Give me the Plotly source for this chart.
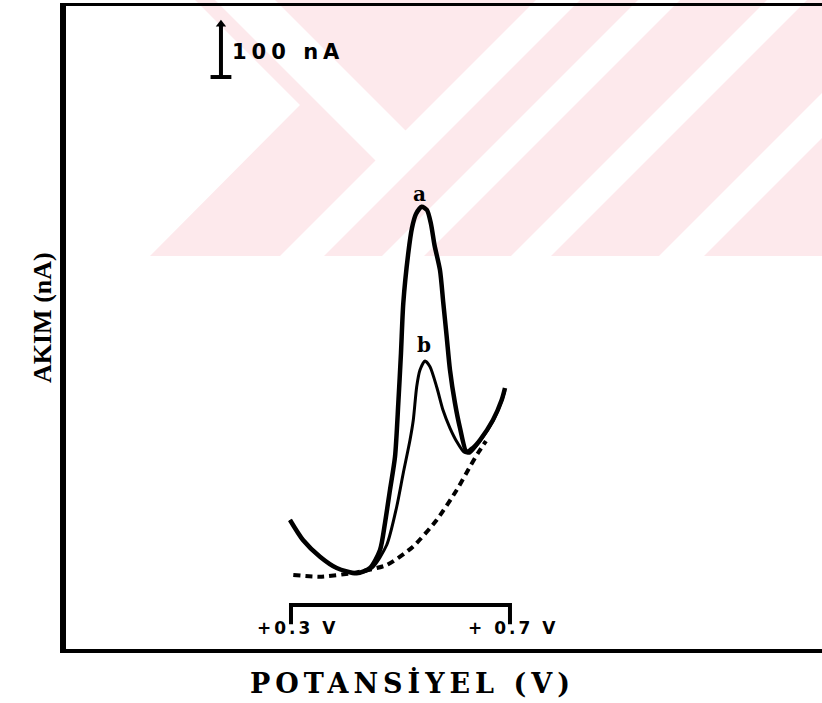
import plotly.graph_objects as go

# ---- data (potential in V, current in nA) ----
pot_a = [0.2982, 0.3219, 0.3530, 0.3835, 0.4200, 0.4443, 0.4626, 0.4717, 0.4808, 0.4900,
         0.4960, 0.5009, 0.5051, 0.5142, 0.5210, 0.5283, 0.5387, 0.5484, 0.5557, 0.5621,
         0.5721, 0.5782, 0.5844, 0.5904, 0.5995, 0.6087, 0.6209, 0.6324, 0.6452, 0.6689,
         0.6848, 0.6909]
cur_a = [236.4, 200.0, 169.6, 149.1, 139.5, 149.1, 181.8, 230.9, 290.9, 351.5,
         448.5, 540.0, 630.4, 721.3, 767.3, 792.7, 806.0, 800.0, 774.5, 736.4,
         690.9, 630.9, 569.6, 509.1, 449.1, 403.6, 360.5, 367.3, 381.8, 418.2,
         454.5, 476.4]

pot_b = [0.2982, 0.3219, 0.3530, 0.3835, 0.4200, 0.4479, 0.4748, 0.4931, 0.5051, 0.5174,
         0.5234, 0.5296, 0.5356, 0.5447, 0.5539, 0.5667, 0.5776, 0.5904, 0.6032, 0.6160,
         0.6269, 0.6452, 0.6689, 0.6848, 0.6909]
cur_b = [236.4, 200.0, 169.6, 149.1, 139.5, 149.1, 190.9, 260.5, 321.8, 381.8,
         418.2, 478.7, 509.1, 525.5, 515.1, 476.4, 436.4, 403.6, 378.2, 360.0,
         358.2, 380.0, 416.4, 452.7, 472.7]

pot_base = [0.3042, 0.3530, 0.4132, 0.4748, 0.5228, 0.5661, 0.6027, 0.6269, 0.6416, 0.6562]
cur_base = [136.4, 133.3, 140.0, 154.5, 187.8, 236.4, 290.9, 333.3, 358.2, 380.0]

curve_labels = ["a", "b"]
label_pot = [0.5350, 0.5430]
label_cur = [830.0, 555.0]

scale_bar_na = 100
scale_bar_pot = 0.1721
scale_bar_base = 1041.8

window_pots = [0.3, 0.7]
window_labels = ["+0.3 V", "+ 0.7 V"]
window_label_pots = [0.312, 0.705]
window_cur = 81.8
window_tick = 47.0

x_title = "POTANSİYEL (V)"
y_title = "AKIM (nA)"

# ---- layout geometry ----
W, H = 822, 703
ML, MR, MT, MB = 60, 0, 3, 50
PW, PH = W - ML - MR, H - MT - MB


def px(x):
    return (x - ML) / PW


def py(y):
    return (H - MB - y) / PH


fig = go.Figure()

# scale bar
fig.add_trace(go.Scatter(x=[scale_bar_pot, scale_bar_pot],
                         y=[scale_bar_base, scale_bar_base + scale_bar_na - 4],
                         mode="lines", line=dict(color="black", width=4),
                         showlegend=False, hoverinfo="skip"))
fig.add_trace(go.Scatter(x=[scale_bar_pot], y=[scale_bar_base + scale_bar_na - 4],
                         mode="markers", marker=dict(symbol="triangle-up", size=9, color="black"),
                         showlegend=False, hoverinfo="skip"))
fig.add_trace(go.Scatter(x=[scale_bar_pot - 0.019, scale_bar_pot + 0.019],
                         y=[scale_bar_base, scale_bar_base],
                         mode="lines", line=dict(color="black", width=4),
                         showlegend=False, hoverinfo="skip"))

# window bracket
fig.add_trace(go.Scatter(x=[window_pots[0], window_pots[0], window_pots[1], window_pots[1]],
                         y=[window_tick, window_cur, window_cur, window_tick],
                         mode="lines", line=dict(color="black", width=4),
                         showlegend=False, hoverinfo="skip"))

# curves
fig.add_trace(go.Scatter(x=pot_base, y=cur_base, mode="lines",
                         line=dict(color="black", width=4, dash="7px,5px", shape="spline", smoothing=0.6),
                         showlegend=False, hoverinfo="skip"))
fig.add_trace(go.Scatter(x=pot_b, y=cur_b, mode="lines",
                         line=dict(color="black", width=3, shape="spline", smoothing=0.7),
                         showlegend=False, hoverinfo="skip"))
fig.add_trace(go.Scatter(x=pot_a, y=cur_a, mode="lines",
                         line=dict(color="black", width=4.5, shape="spline", smoothing=0.7),
                         showlegend=False, hoverinfo="skip"))

# curve labels
for t, xv, yv in zip(curve_labels, label_pot, label_cur):
    fig.add_annotation(x=xv, y=yv, text=f"<b>{t}</b>", showarrow=False,
                       font=dict(family="DejaVu Serif", size=20, color="black"))

# window labels
for t, xv in zip(window_labels, window_label_pots):
    fig.add_annotation(x=xv, y=39.5, yanchor="middle", xanchor="center",
                       text=f"<b><span style='letter-spacing:3px'>{t}</span></b>",
                       showarrow=False, font=dict(family="DejaVu Sans", size=17, color="black"))

# scale bar label
fig.add_annotation(x=scale_bar_pot + 0.017, y=scale_bar_base + 46, xanchor="left", yanchor="middle",
                   text=f"<b><span style='letter-spacing:5px'>{scale_bar_na} nA</span></b>",
                   showarrow=False, font=dict(family="DejaVu Sans", size=21, color="black"))

# axis titles
fig.add_annotation(xref="paper", yref="paper", x=px(42), y=py(318), xanchor="center", yanchor="middle",
                   text=f"<b>{y_title}</b>", textangle=-90, showarrow=False,
                   font=dict(family="Liberation Serif", size=26, color="black"))
fig.add_annotation(xref="paper", yref="paper", x=px(412), y=py(682), xanchor="center", yanchor="middle",
                   text=f"<b><span style='letter-spacing:5px'>{x_title}</span></b>",
                   showarrow=False, font=dict(family="DejaVu Serif", size=27, color="black"))

# watermark (pale pink stripes)
pink = "#fde9ec"
shapes = []


def poly(points, color):
    d = "M " + " L ".join(f"{px(x):.5f},{py(y):.5f}" for x, y in points) + " Z"
    return dict(type="path", xref="paper", yref="paper", path=d, fillcolor=color,
                line=dict(width=0), layer="below")


band_bottom = 256
shapes.append(poly([(195, 0), (822, 0), (822, band_bottom), (150, band_bottom), (300, 105)], pink))
shapes.append(poly([(215, 0), (275, 0), (417.5, 142.5), (387.5, 172.5)], "white"))
for c1, c2 in [(536, 580), (638, 680), (767, 807), (915, 960)]:
    shapes.append(poly([(c1, 0), (c2, 0), (c2 - band_bottom, band_bottom), (c1 - band_bottom, band_bottom)], "white"))

# frame
shapes.append(dict(type="line", xref="paper", yref="paper", x0=px(63), x1=px(63), y0=py(651), y1=py(3),
                   line=dict(color="black", width=6)))
shapes.append(dict(type="line", xref="paper", yref="paper", x0=px(60), x1=px(822), y0=py(4.5), y1=py(4.5),
                   line=dict(color="black", width=3)))
shapes.append(dict(type="line", xref="paper", yref="paper", x0=px(60), x1=px(822), y0=py(651), y1=py(651),
                   line=dict(color="black", width=4)))

fig.update_layout(
    width=W, height=H,
    margin=dict(l=ML, r=MR, t=MT, b=MB),
    paper_bgcolor="white", plot_bgcolor="rgba(0,0,0,0)",
    shapes=shapes,
    xaxis=dict(range=[-0.1219, 1.2699], visible=False, fixedrange=True),
    yaxis=dict(range=[-5.45, 1176.4], visible=False, fixedrange=True),
    showlegend=False,
)

fig.write_html("out.html", config={"displayModeBar": False},
               post_script="document.body.style.margin='0px';")
